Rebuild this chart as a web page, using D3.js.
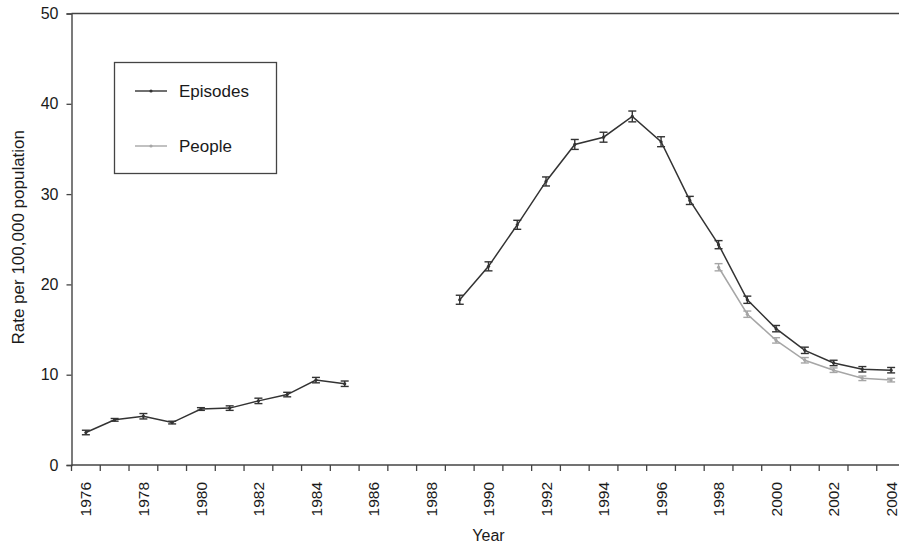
<!DOCTYPE html>
<html>
<head>
<meta charset="utf-8">
<script src="https://cdn.jsdelivr.net/npm/d3@7/dist/d3.min.js"></script>
<style>
  html, body { margin: 0; padding: 0; background: #fff; }
  svg { display: block; font-family: "Liberation Sans", Arial, sans-serif; }
</style>
</head>
<body>
<svg id="chart" width="899" height="545"></svg>
<script>
// Years on the category axis
const years = d3.range(1976, 2005);
const yearTickLabels = years.filter(y => y % 2 === 0);
const yTickValues = [0, 10, 20, 30, 40, 50];

// Rate per 100,000 population (null = no data)
const episodes = [3.6, 5.0, 5.4, 4.7, 6.2, 6.3, 7.1, 7.8, 9.4, 9.0,
  null, null, null,
  18.3, 22.0, 26.6, 31.4, 35.5, 36.3, 38.6, 35.8, 29.3, 24.4,
  18.3, 15.1, 12.7, 11.3, 10.6, 10.5];
const episodesErr = [0.25, 0.15, 0.3, 0.15, 0.15, 0.25, 0.3, 0.25, 0.3, 0.3,
  null, null, null,
  0.5, 0.5, 0.5, 0.5, 0.55, 0.55, 0.6, 0.55, 0.45, 0.45,
  0.4, 0.35, 0.35, 0.3, 0.3, 0.3];

const people = [null, null, null, null, null, null, null, null, null, null,
  null, null, null,
  null, null, null, null, null, null, null, null, null, 21.9,
  16.7, 13.8, 11.6, 10.5, 9.6, 9.4];
const peopleErr = [null, null, null, null, null, null, null, null, null, null,
  null, null, null,
  null, null, null, null, null, null, null, null, null, 0.4,
  0.35, 0.3, 0.3, 0.25, 0.25, 0.2];

const seriesNames = ["Episodes", "People"];
const seriesColors = ["#333333", "#a6a6a6"];

const svg = d3.select("#chart");
const axisColor = "#444";
const textColor = "#1a1a1a";

const plot = { left: 71.5, right: 905.5, top: 13.5, bottom: 465 };

const x = d3.scaleBand().domain(years).range([plot.left, plot.right]).padding(0);
const y = d3.scaleLinear().domain([0, 50]).range([plot.bottom, plot.top]);
const cx = yr => x(yr) + x.bandwidth() / 2;

// Top frame line
svg.append("line")
  .attr("x1", plot.left).attr("x2", plot.right)
  .attr("y1", plot.top).attr("y2", plot.top)
  .attr("stroke", axisColor).attr("stroke-width", 1.4);

// Y axis
const yAxis = svg.append("g")
  .attr("transform", `translate(${plot.left},0)`)
  .call(d3.axisLeft(y).tickValues(yTickValues).tickSize(5).tickPadding(8));
yAxis.select(".domain").attr("stroke", axisColor).attr("stroke-width", 1.4);
yAxis.selectAll(".tick line").attr("stroke", axisColor).attr("stroke-width", 1.3);
yAxis.selectAll(".tick text")
  .attr("fill", textColor).style("font-size", "16px")
  .attr("font-family", "Liberation Sans, Arial, sans-serif");

// X axis: ticks on category boundaries, labels on even years
const xAxisG = svg.append("g").attr("transform", `translate(0,${plot.bottom})`);
xAxisG.append("line")
  .attr("x1", plot.left).attr("x2", plot.right)
  .attr("y1", 0).attr("y2", 0)
  .attr("stroke", axisColor).attr("stroke-width", 1.4);
xAxisG.selectAll("line.tick")
  .data(years.concat([null]))
  .join("line")
  .attr("class", "tick")
  .attr("x1", d => d === null ? plot.right : x(d))
  .attr("x2", d => d === null ? plot.right : x(d))
  .attr("y1", 0).attr("y2", 6)
  .attr("stroke", axisColor).attr("stroke-width", 1.3);
xAxisG.selectAll("text.label")
  .data(yearTickLabels)
  .join("text")
  .attr("class", "label")
  .attr("transform", d => `translate(${cx(d)},17) rotate(-90)`)
  .attr("text-anchor", "end")
  .attr("dy", "0.36em")
  .attr("fill", textColor)
  .style("font-size", "15.5px")
  .text(d => d);

// Axis titles
svg.append("text")
  .attr("x", (plot.left + plot.right) / 2).attr("y", 541)
  .attr("text-anchor", "middle").attr("fill", textColor)
  .style("font-size", "16px").text("Year");
svg.append("text")
  .attr("transform", `translate(24,${(plot.top + plot.bottom) / 2 - 2}) rotate(-90)`)
  .attr("text-anchor", "middle").attr("fill", textColor)
  .style("font-size", "17px").text("Rate per 100,000 population");

// Series lines with error bars
const seriesData = [
  { name: seriesNames[0], color: seriesColors[0],
    values: years.map((yr, i) => ({ yr, v: episodes[i], e: episodesErr[i] })) },
  { name: seriesNames[1], color: seriesColors[1],
    values: years.map((yr, i) => ({ yr, v: people[i], e: peopleErr[i] })) }
];

const line = d3.line()
  .defined(d => d.v !== null)
  .x(d => cx(d.yr))
  .y(d => y(d.v));

const capW = 4;
seriesData.slice().reverse().forEach(s => {
  const g = svg.append("g");
  g.append("path")
    .datum(s.values)
    .attr("d", line)
    .attr("fill", "none")
    .attr("stroke", s.color)
    .attr("stroke-width", 1.5);
  const pts = s.values.filter(d => d.v !== null);
  const eb = g.selectAll("g.eb").data(pts).join("g").attr("class", "eb")
    .attr("stroke", s.color).attr("stroke-width", 1.4);
  eb.append("line")
    .attr("x1", d => cx(d.yr)).attr("x2", d => cx(d.yr))
    .attr("y1", d => y(d.v - d.e)).attr("y2", d => y(d.v + d.e));
  eb.append("line")
    .attr("x1", d => cx(d.yr) - capW).attr("x2", d => cx(d.yr) + capW)
    .attr("y1", d => y(d.v + d.e)).attr("y2", d => y(d.v + d.e));
  eb.append("line")
    .attr("x1", d => cx(d.yr) - capW).attr("x2", d => cx(d.yr) + capW)
    .attr("y1", d => y(d.v - d.e)).attr("y2", d => y(d.v - d.e));
  g.selectAll("circle").data(pts).join("circle")
    .attr("cx", d => cx(d.yr)).attr("cy", d => y(d.v))
    .attr("r", 1.6).attr("fill", s.color);
});

// Legend
const legend = svg.append("g");
legend.append("rect")
  .attr("x", 114.5).attr("y", 62.5).attr("width", 162).attr("height", 111)
  .attr("fill", "#fff").attr("stroke", axisColor).attr("stroke-width", 1.3);
const legendRows = [91, 146];
seriesNames.forEach((name, i) => {
  const ly = legendRows[i];
  legend.append("line")
    .attr("x1", 135).attr("x2", 167).attr("y1", ly).attr("y2", ly)
    .attr("stroke", seriesColors[i]).attr("stroke-width", 1.4);
  legend.append("circle")
    .attr("cx", 151).attr("cy", ly).attr("r", 1.6).attr("fill", seriesColors[i]);
  legend.append("text")
    .attr("x", 179).attr("y", ly).attr("dy", "0.35em")
    .attr("fill", textColor).style("font-size", "17px").text(name);
});
</script>
</body>
</html>
